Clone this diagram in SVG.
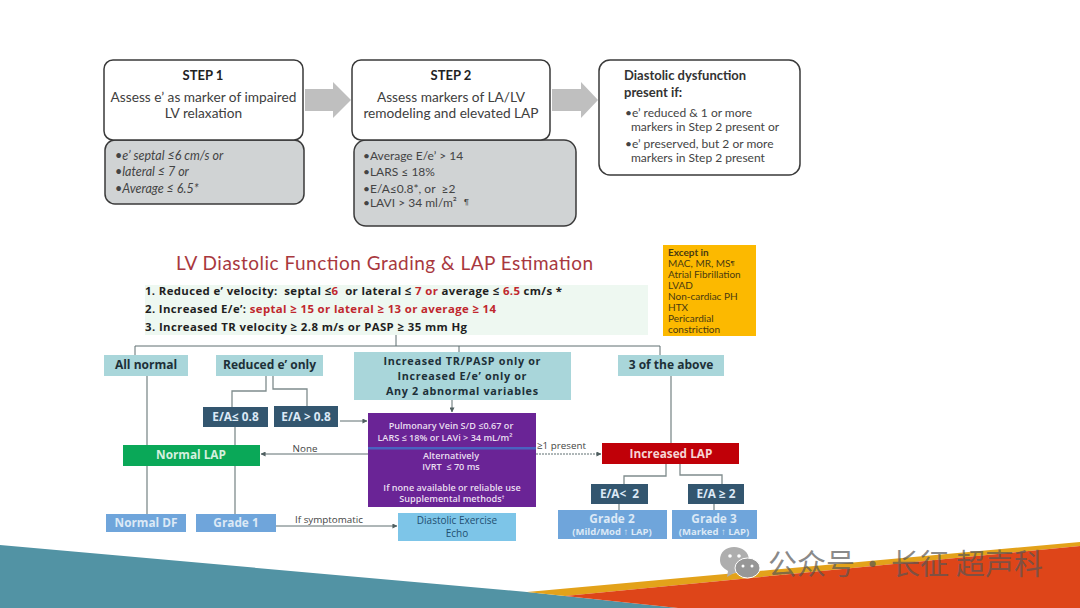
<svg xmlns="http://www.w3.org/2000/svg" width="1080" height="608" viewBox="0 0 1080 608">
<style>
text{font-family:"Lato","Liberation Sans",sans-serif;fill:#333;white-space:pre}
.c{text-anchor:middle}
.st{font-size:13.7px;fill:#404040}
.sh{font-size:13px;font-weight:700;fill:#222}
.bl{font-size:12px;fill:#444}
.bi{font-size:12.5px;font-style:italic;fill:#444}
.box{fill:#fff;stroke:#3a3a3a;stroke-width:1.5}
.gr{fill:#d0d3d4;stroke:#3a3a3a;stroke-width:1.5}
.ar{fill:#bfbfbf}
.ln{fill:none;stroke:#7f8c8d;stroke-width:1.3}
.thin{fill:none;stroke:#5f6f70;stroke-width:1}
.o{font-family:"Open Sans","Liberation Sans",sans-serif}
.crit{font-size:11.4px;font-weight:700;fill:#1f1f1f}
.r{fill:#c0272d}
.teal{fill:#a9d6da}
.tt{font-size:12px;font-weight:700;fill:#1d3038}
.t3{font-size:10.8px}
.dk{fill:#33566f}
.wt{font-weight:700;fill:#dce9f6;font-size:11.8px}
.sm{font-size:9.5px}
.blue{fill:#6fa5db}
.pt{font-size:9.1px;font-weight:600;fill:#e9dff0}
.lb{font-size:9.8px;fill:#444}
.ex{font-size:10px;fill:#4a3a10}
.wm{font-family:"Noto Sans CJK SC",sans-serif;font-size:29px;fill:#555;fill-opacity:.7}
</style>
<defs>
<marker id="m" viewBox="0 0 6 6" refX="5.5" refY="3" markerWidth="5" markerHeight="5" orient="auto"><path d="M0 0L6 3L0 6z" fill="#4f5f60"/></marker>
</defs>
<rect width="1080" height="608" fill="#fff"/>
<g id="footer">
<path d="M0 545L527 592L678 608H0z" fill="#5293a4"/>
<path d="M527 592L1080 542V546L565 596z" fill="#e3a21a"/>
<path d="M565 596L1080 546V608H678z" fill="#de4519"/>
</g>
<g id="connectors">
<path class="ar" d="M305 89H333V82L351 100L333 118V111H305z"/>
<path class="ar" d="M552 89H581V82L598 100L581 118V111H552z"/>
<path class="thin" d="M396 335V346M135 355V346H660V355M459 346V352"/>
<path class="ln" d="M266 376V391H232V407M273 376V389H307V406"/>
<path class="thin" d="M340 421H367" marker-end="url(#m)"/>
<path class="thin" d="M452 400V412" marker-end="url(#m)"/>
<path class="thin" d="M368 454H261" marker-end="url(#m)"/>
<path class="thin" d="M536 454H601" marker-end="url(#m)" stroke-dasharray="2 1"/>
<path class="ln" d="M147 376V445M147 466V514M235 427V445M235 466V514M671 376V443"/>
<path class="ln" d="M666 464V476H624V484M680 464V475H722V484M619 504V510M714 504V510"/>
<path class="thin" d="M276 526H397" marker-end="url(#m)"/>
</g>
<g id="step1">
<rect class="gr" x="105" y="140" width="199" height="64" rx="10"/>
<rect class="box" x="104" y="60" width="199" height="80" rx="9"/>
<text class="c sh" x="203" y="80">STEP 1</text>
<text class="c st" x="203.500" y="102">Assess e’ as marker of impaired</text>
<text class="c st" x="203.500" y="118">LV relaxation</text>
<text class="bi" x="115" y="160">•e’ septal ≤6 cm/s or</text>
<text class="bi" x="115" y="176">•lateral ≤ 7 or</text>
<text class="bi" x="115" y="193">•Average ≤ 6.5*</text>
</g>
<g id="step2">
<rect class="gr" x="354" y="140" width="222" height="86" rx="12"/>
<rect class="box" x="352" y="60" width="198" height="80" rx="9"/>
<text class="c sh" x="451" y="80">STEP 2</text>
<text class="c st" x="451" y="102">Assess markers of LA/LV</text>
<text class="c st" x="451" y="118">remodeling and elevated LAP</text>
<text class="bl" x="363" y="160">•Average E/e’ &gt; 14</text>
<text class="bl" x="363" y="176">•LARS ≤ 18%</text>
<text class="bl" x="363" y="193">•E/A≤0.8*, or  ≥2</text>
<text class="bl" x="363" y="207">•LAVI &gt; 34 ml/m² <tspan font-size="7" dy="-2" dx="4">¶</tspan></text>
</g>
<g id="result">
<rect class="box" x="599" y="60" width="201" height="115" rx="11"/>
<text class="sh" x="624" y="80" style="fill:#333">Diastolic dysfunction</text>
<text class="sh" x="624" y="97" style="fill:#333">present if:</text>
<text class="bl" x="625" y="117">•e’ reduced &amp; 1 or more</text>
<text class="bl" x="631" y="131">markers in Step 2 present or</text>
<text class="bl" x="625" y="148">•e’ preserved, but 2 or more</text>
<text class="bl" x="631" y="162">markers in Step 2 present</text>
</g>
<g id="title">
<text x="176" y="270" font-size="19" style="fill:#a8383e" textLength="417">LV Diastolic Function Grading &amp; LAP Estimation</text>
</g>
<g id="criteria">
<rect x="145" y="285" width="503" height="50" fill="#eef8f1"/>
<text class="o crit" x="145" y="295" textLength="417">1. Reduced e’ velocity:  septal ≤<tspan class="r">6</tspan>  or lateral ≤ <tspan class="r">7 or</tspan> average ≤ <tspan class="r">6.5</tspan> cm/s *</text>
<text class="o crit" x="145" y="313" textLength="351">2. Increased E/e’: <tspan class="r">septal ≥ 15 or lateral ≥ 13 or average ≥ 14</tspan></text>
<text class="o crit" x="145" y="331" textLength="322">3. Increased TR velocity ≥ 2.8 m/s or PASP ≥ 35 mm Hg</text>
</g>
<g id="except">
<rect x="663" y="245" width="93" height="91" fill="#fcb900"/>
<text class="ex" font-weight="700" x="668" y="256">Except in</text>
<text class="ex" x="668" y="267">MAC, MR, MS<tspan font-size="6" dy="-2">¶</tspan></text>
<text class="ex" x="668" y="278">Atrial Fibrillation</text>
<text class="ex" x="668" y="289">LVAD</text>
<text class="ex" x="668" y="300">Non-cardiac PH</text>
<text class="ex" x="668" y="311">HTX</text>
<text class="ex" x="668" y="322">Pericardial</text>
<text class="ex" x="668" y="333">constriction</text>
</g>
<g id="all-normal"><rect class="teal" x="104" y="355" width="84" height="21"/><text class="o c tt" x="146" y="369">All normal</text></g>
<g id="reduced"><rect class="teal" x="216" y="355" width="107" height="21"/><text class="o c tt" x="269.500" y="369">Reduced e’ only</text></g>
<g id="increased-tr"><rect class="teal" x="354" y="352" width="217" height="48"/>
<text class="o c tt t3" x="462" y="365" textLength="157">Increased TR/PASP only or</text>
<text class="o c tt t3" x="462" y="380" textLength="129">Increased E/e’ only or</text>
<text class="o c tt t3" x="462" y="395" textLength="152">Any 2 abnormal variables</text></g>
<g id="three"><rect class="teal" x="618" y="355" width="106" height="21"/><text class="o c tt" x="671" y="369">3 of the above</text></g>
<g id="ea-low"><rect class="dk" x="203" y="407" width="65" height="20"/><text class="o c wt" x="235.500" y="421">E/A≤ 0.8</text></g>
<g id="ea-high"><rect class="dk" x="274" y="406" width="64" height="21"/><text class="o c wt" x="306" y="421">E/A &gt; 0.8</text></g>
<g id="pulmonary">
<rect x="368" y="413" width="168" height="94" fill="#6a2496"/>
<rect x="368" y="447" width="168" height="2.500" fill="#4a62c0"/>
<text class="o c pt" x="451" y="429">Pulmonary Vein S/D ≤0.67 or</text>
<text class="o c pt" x="445" y="441">LARS ≤ 18% or LAVi &gt; 34 mL/m²</text>
<text class="o c pt" x="451" y="459">Alternatively</text>
<text class="o c pt" x="451" y="470">IVRT  ≤ 70 ms</text>
<text class="o c pt" x="452" y="491">If none available or reliable use</text>
<text class="o c pt" x="452" y="502">Supplemental methods<tspan font-size="6" dy="-3">†</tspan></text>
</g>
<g id="normal-lap"><rect x="123" y="445" width="137" height="21" fill="#0aa858"/><text class="o c wt" x="191" y="459" style="fill:#d5f0df">Normal LAP</text></g>
<g id="increased-lap"><rect x="602" y="443" width="137" height="21" fill="#c00008"/><text class="o c wt" x="671" y="458" style="fill:#f6d5d5">Increased LAP</text></g>
<text class="o c lb" x="305" y="452">None</text>
<text class="o lb" x="537" y="449">≥1 present</text>
<text class="o c lb" x="329" y="523">If symptomatic</text>
<g id="ea-lt2"><rect class="dk" x="591" y="484" width="57" height="20"/><text class="o c wt" x="619.500" y="498">E/A&lt;  2</text></g>
<g id="ea-ge2"><rect class="dk" x="688" y="484" width="56" height="20"/><text class="o c wt" x="716" y="498">E/A ≥ 2</text></g>
<g id="normal-df"><rect class="blue" x="106" y="514" width="80" height="18"/><text class="o c wt" x="146" y="527">Normal DF</text></g>
<g id="grade1"><rect class="blue" x="196" y="514" width="80" height="18"/><text class="o c wt" x="236" y="527">Grade 1</text></g>
<g id="echo"><rect x="398" y="513" width="118" height="28" fill="#7dc5e8"/>
<text class="o c" x="457" y="524" font-size="10" style="fill:#1f4f70">Diastolic Exercise</text>
<text class="o c" x="457" y="537" font-size="10" style="fill:#1f4f70">Echo</text></g>
<g id="grade2"><rect class="blue" x="558" y="510" width="109" height="29"/>
<text class="o c wt" x="612" y="523">Grade 2</text>
<text class="o c wt sm" x="612" y="535">(Mild/Mod ↑ LAP)</text></g>
<g id="grade3"><rect class="blue" x="672" y="510" width="85" height="29"/>
<text class="o c wt" x="714" y="523">Grade 3</text>
<text class="o c wt sm" x="714" y="535">(Marked ↑ LAP)</text></g>
<g id="watermark">
<path d="M734 547C742 547 749 552 749 560C749 568 742 573 734 573L727 577L728 571C723 568 720 565 720 560C720 552 726 547 734 547z" fill="#aeaeae"/>
<ellipse cx="747.500" cy="568" rx="12.500" ry="10" fill="#979797" stroke="#fff" stroke-width="1"/>
<circle cx="743" cy="566" r="1.500" fill="#fff"/><circle cx="752" cy="566" r="1.500" fill="#fff"/>
<circle cx="730" cy="556" r="1.800" fill="#fff"/><circle cx="739" cy="556" r="1.800" fill="#fff"/>
<text class="wm" y="575"><tspan x="768">公众号</tspan><tspan x="858">·</tspan><tspan x="891">长征</tspan><tspan x="956">超声科</tspan></text>
</g>
</svg>
